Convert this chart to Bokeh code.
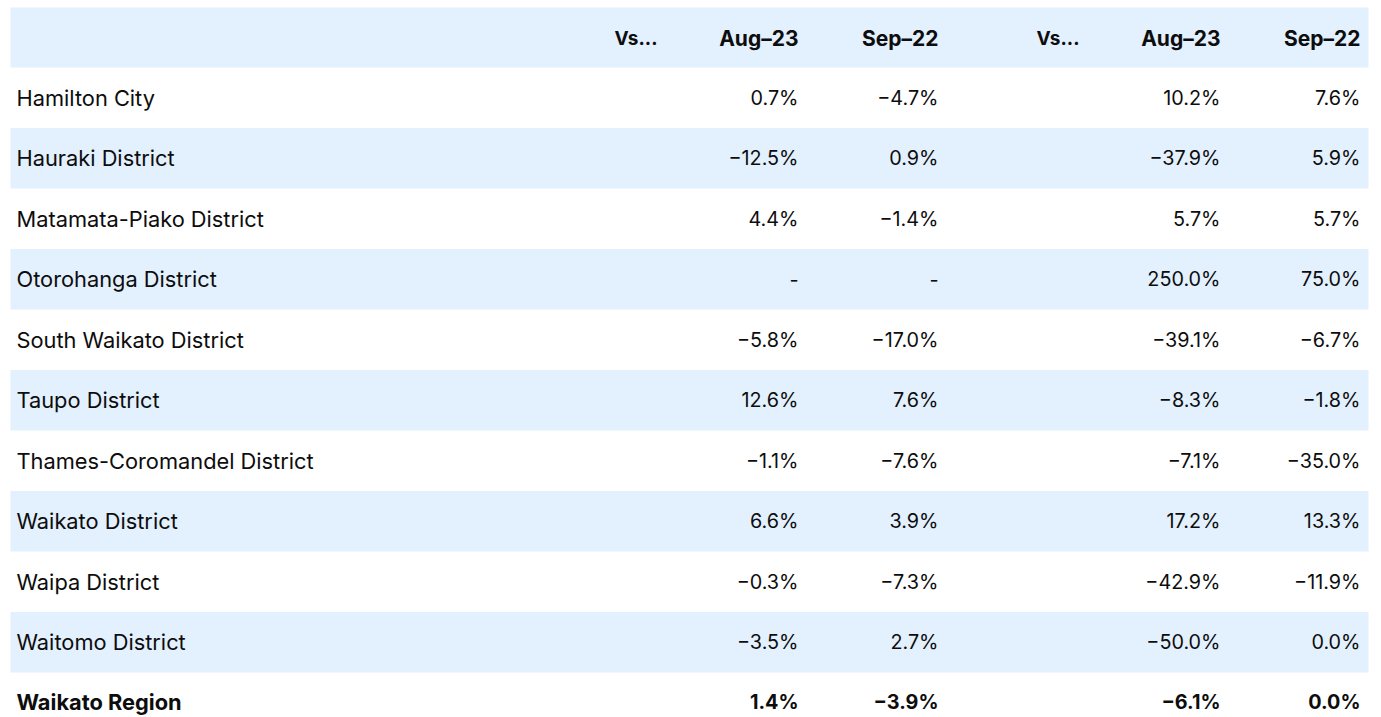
from bokeh.plotting import figure
from bokeh.models import Range1d, ColumnDataSource
from bokeh.core.properties import value
from bokeh.embed import file_html
from bokeh.resources import INLINE

regions = ["Hamilton City", "Hauraki District", "Matamata-Piako District", "Otorohanga District",
           "South Waikato District", "Taupo District", "Thames-Coromandel District",
           "Waikato District", "Waipa District", "Waitomo District", "Waikato Region"]
a_aug23 = ["0.7%", "−12.5%", "4.4%", "-", "−5.8%", "12.6%", "−1.1%", "6.6%", "−0.3%", "−3.5%", "1.4%"]
a_sep22 = ["−4.7%", "0.9%", "−1.4%", "-", "−17.0%", "7.6%", "−7.6%", "3.9%", "−7.3%", "2.7%", "−3.9%"]
b_aug23 = ["10.2%", "−37.9%", "5.7%", "250.0%", "−39.1%", "−8.3%", "−7.1%", "17.2%", "−42.9%", "−50.0%", "−6.1%"]
b_sep22 = ["7.6%", "5.9%", "5.7%", "75.0%", "−6.7%", "−1.8%", "−35.0%", "13.3%", "−11.9%", "0.0%", "0.0%"]
headers = ["Vs...", "Aug–23", "Sep–22", "Vs...", "Aug–23", "Sep–22"]

FONT = "Inter"
FS_NAME = "21.8px"
FS_NUM = "19.8px"
FS_HEAD = "21px"
FS_VS = "19px"
SHADE = "#e3f0fe"
TXT = "#0d0d0d"

W, H = 1375, 717
p = figure(width=W, height=H, output_backend="svg", toolbar_location=None,
           x_range=Range1d(0, W), y_range=Range1d(H, 0),
           min_border=0, outline_line_color=None)
p.axis.visible = False
p.grid.visible = False
p.background_fill_color = "white"
p.border_fill_color = "white"

LEFT, RIGHT = 10, 1368
HEAD_TOP, HEAD_BOT = 7, 67
ROW_H = 60.5

# header band
p.quad(left=[LEFT], right=[RIGHT], top=[HEAD_TOP], bottom=[HEAD_BOT], fill_color=SHADE, line_color=None)

n = len(regions)
tops = [HEAD_BOT + i * ROW_H for i in range(n)]
shaded = [i for i in range(n) if i % 2 == 1]
p.quad(left=[LEFT] * len(shaded), right=[RIGHT] * len(shaded),
       top=[tops[i] for i in shaded], bottom=[tops[i] + ROW_H for i in shaded],
       fill_color=SHADE, line_color=None)

col_right = [657, 798, 938, 1079, 1220, 1360]
head_y = (HEAD_TOP + HEAD_BOT) / 2 + 1
date_cols = [1, 2, 4, 5]
vs_cols = [0, 3]
p.text(x=[col_right[i] for i in date_cols], y=[head_y] * 4, text=[headers[i] for i in date_cols],
       text_align="right", text_baseline="middle",
       text_font=value(FONT), text_font_size=FS_HEAD, text_font_style="bold", text_color=TXT)
p.text(x=[col_right[i] for i in vs_cols], y=[head_y] * 2, text=[headers[i] for i in vs_cols],
       text_align="right", text_baseline="middle",
       text_font=value(FONT), text_font_size=FS_VS, text_font_style="bold", text_color=TXT)

cy = [t + ROW_H / 2 for t in tops]
cy[-1] = min(cy[-1], H - 16)
body = n - 1
style = ["normal"] * body + ["bold"]
src = ColumnDataSource(dict(y=cy, name=regions, a1=a_aug23, a2=a_sep22, b1=b_aug23, b2=b_sep22, st=style))
p.text(x=16, y="y", text="name", source=src, text_align="left", text_baseline="middle",
       text_font=value(FONT), text_font_size=FS_NAME, text_font_style="st", text_color=TXT)
for col, x in [("a1", col_right[1]), ("a2", col_right[2]), ("b1", col_right[4]), ("b2", col_right[5])]:
    p.text(x=x, y="y", text=col, source=src, text_align="right", text_baseline="middle",
           text_font=value(FONT), text_font_size=FS_NUM, text_font_style="st", text_color=TXT)

open("out.html", "w").write(file_html(p, INLINE))
